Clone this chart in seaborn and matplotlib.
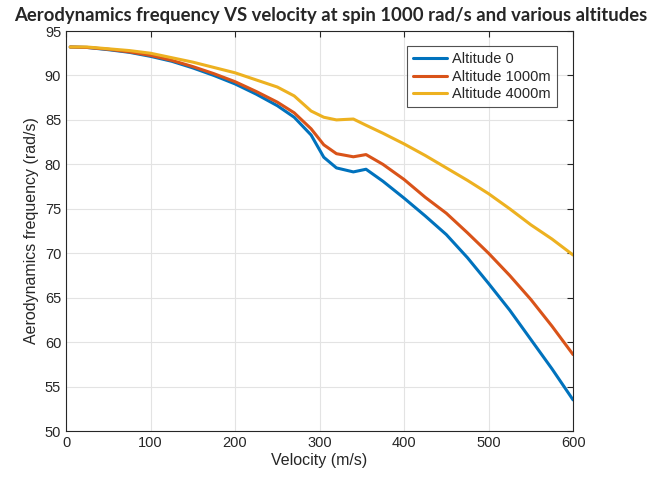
import numpy as np
import pandas as pd
import seaborn as sns
import matplotlib.pyplot as plt

velocity = [5, 25, 50, 75, 100, 125, 150, 175, 200, 225, 250, 270, 290, 305,
    320, 340, 355, 375, 400, 425, 450, 475, 500, 525, 550, 575, 600]
freq_alt0 = [93.2, 93.15, 92.9, 92.6, 92.15, 91.6, 90.85, 90.0, 89.05, 87.9,
    86.6, 85.3, 83.3, 80.8, 79.6, 79.15, 79.45, 78.1, 76.2, 74.2, 72.1, 69.5,
    66.6, 63.6, 60.3, 57.0, 53.5]
freq_alt1000 = [93.2, 93.15, 92.95, 92.65, 92.25, 91.7, 91.0, 90.2, 89.3, 88.2,
    87.0, 85.8, 84.0, 82.2, 81.2, 80.85, 81.1, 80.0, 78.3, 76.3, 74.5, 72.3,
    70.0, 67.5, 64.8, 61.8, 58.6]
freq_alt4000 = [93.2, 93.2, 93.0, 92.8, 92.5, 92.0, 91.5, 90.9, 90.3, 89.5,
    88.7, 87.7, 86.0, 85.3, 85.0, 85.1, 84.4, 83.5, 82.3, 81.0, 79.6, 78.2,
    76.7, 75.0, 73.2, 71.6, 69.8]
series_names = ["Altitude 0", "Altitude 1000m", "Altitude 4000m"]
colors = ["#0072BD", "#D95319", "#EDB120"]

df = pd.concat([
    pd.DataFrame({"Velocity": velocity, "Freq": f, "Series": name})
    for f, name in zip([freq_alt0, freq_alt1000, freq_alt4000], series_names)
])

sns.set_style("white")
plt.rcParams['font.family'] = ['Liberation Sans', 'DejaVu Sans']

fig = plt.figure(figsize=(6.62, 4.8), dpi=100)
ax = fig.add_axes([0.0997, 0.102, 0.766, 0.8334])
sns.lineplot(data=df, x="Velocity", y="Freq", hue="Series", palette=colors,
    linewidth=2.2, ax=ax, sort=False)

ax.set_xlim(0, 600)
ax.set_ylim(50, 95)
ax.set_xticks(np.arange(0, 601, 100))
ax.set_yticks(np.arange(50, 96, 5))
ax.grid(True, color="#e3e3e3", linewidth=0.8)
ax.tick_params(direction="in", length=4, top=True, right=True,
    labelsize=10.5, colors="#262626", width=0.8)
for s in ax.spines.values():
    s.set_color("#262626")
    s.set_linewidth(0.8)
ax.set_xlabel("Velocity (m/s)", fontsize=11.5, color="#262626", labelpad=2)
ax.set_ylabel("Aerodynamics frequency (rad/s)", fontsize=11.5, color="#262626")

leg = ax.legend(loc="upper right", bbox_to_anchor=(0.968, 0.962), fontsize=10.5,
    frameon=True, fancybox=False, edgecolor="#262626", handlelength=2.3,
    borderpad=0.4, labelspacing=0.25, handletextpad=0.4, borderaxespad=0)
leg.get_frame().set_linewidth(0.8)

fig.text(0.5, 0.985, "Aerodynamics frequency VS velocity at spin 1000 rad/s and various altitudes",
    ha="center", va="top", fontsize=13.3, fontweight="bold", family=["Lato", "DejaVu Sans"])

fig.savefig("out.png", dpi=100)
